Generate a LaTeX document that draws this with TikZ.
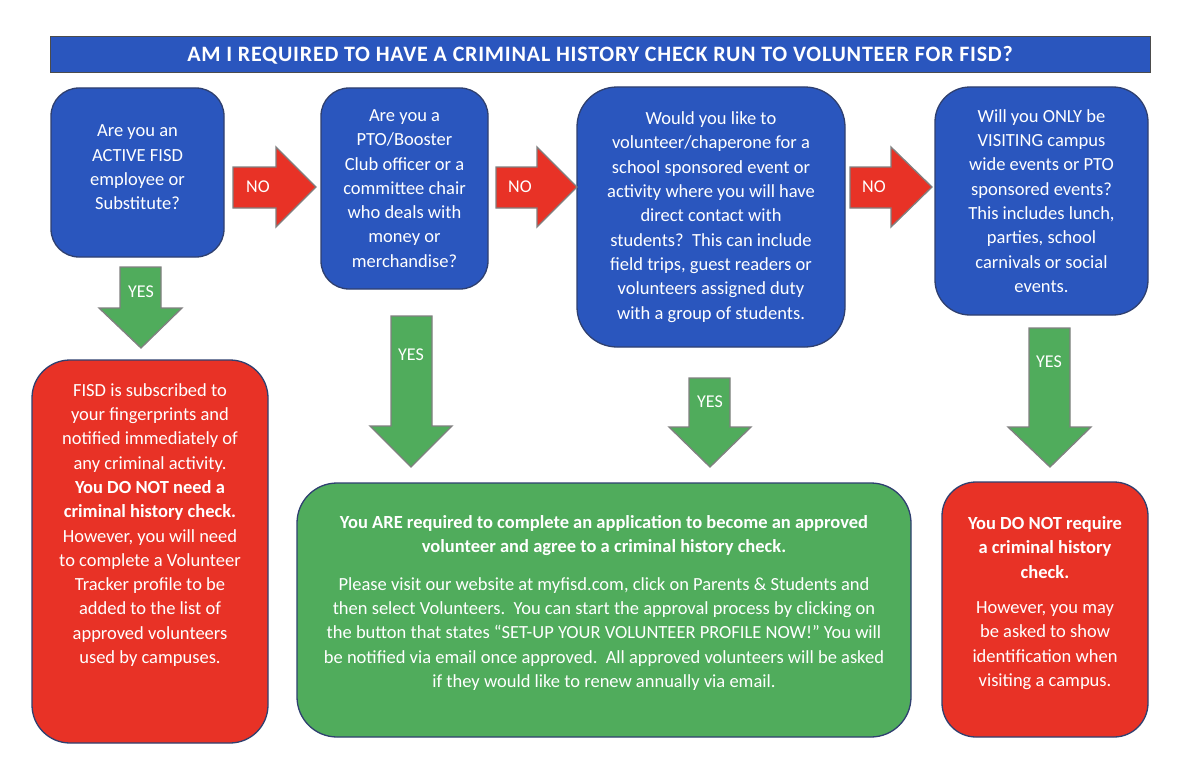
\documentclass[tikz,border=0pt]{standalone}
\usepackage{fontspec}
\setmainfont{Carlito}
\definecolor{fblue}{RGB}{42,86,190}
\definecolor{fred}{RGB}{232,50,38}
\definecolor{fgreen}{RGB}{80,172,92}
\definecolor{edge}{RGB}{47,64,112}
\definecolor{aedge}{RGB}{128,128,128}
\begin{document}
\begin{tikzpicture}[x=1pt,y=-1pt,
  box/.style={draw=edge,line width=1.3pt,inner sep=0pt,outer sep=0pt},
  bluebox/.style={box,fill=fblue},
  redbox/.style={box,fill=fred},
  greenbox/.style={box,fill=fgreen},
  txt/.style={text=white,align=center,inner sep=0pt,font=\fontsize{18.5}{24.3}\selectfont},
  noarrow/.style={fill=fred,draw=aedge,line width=1.3pt,line join=miter},
  yesarrow/.style={fill=fgreen,draw=aedge,line width=1.3pt,line join=miter},
  lbl/.style={text=white,inner sep=0pt,font=\fontsize{18}{22}\selectfont}]
\useasboundingbox (0,0) rectangle (1200,784);
\fill[white] (0,0) rectangle (1200,784);
% title bar
\node[draw=black!70,fill=fblue,line width=1pt,minimum width=1100pt,minimum height=36pt,inner sep=0pt,text=white,font=\fontsize{22}{24}\selectfont\bfseries\addfontfeature{LetterSpace=3.5}] (title) at (600,55) {AM I REQUIRED TO HAVE A CRIMINAL HISTORY CHECK RUN TO VOLUNTEER FOR FISD?};
% question boxes
\node[bluebox,minimum width=173pt,minimum height=169pt,rounded corners=28pt] (q1) at (137.5,172.5) {};
\node[bluebox,minimum width=167pt,minimum height=201pt,rounded corners=28pt] (q2) at (404.5,188.5) {};
\node[bluebox,minimum width=268pt,minimum height=260pt,rounded corners=40pt] (q3) at (711,217) {};
\node[bluebox,minimum width=213pt,minimum height=228pt,rounded corners=35pt] (q4) at (1041.5,201) {};
% answer boxes
\node[redbox,minimum width=236pt,minimum height=383pt,rounded corners=38pt] (r1) at (150,551.5) {};
\node[greenbox,minimum width=614pt,minimum height=254pt,rounded corners=40pt] (g1) at (604,610) {};
\node[redbox,minimum width=206pt,minimum height=255pt,rounded corners=34pt] (r2) at (1045,609.5) {};
% texts
\node[txt] (q1t) at (q1.center) [yshift=5pt] {Are you an\\ACTIVE FISD\\employee or\\Substitute?};
\node[txt] (q2t) at (q2.center) {Are you a\\PTO/Booster\\Club officer or a\\committee chair\\who deals with\\money or\\merchandise?};
\node[txt] (q3t) at (q3.center) {Would you like to\\volunteer/chaperone for a\\school sponsored event or\\activity where you will have\\direct contact with\\students?\ \ This can include\\field trips, guest readers or\\volunteers assigned duty\\with a group of students.};
\node[txt] (q4t) at (q4.center) {Will you ONLY be\\VISITING campus\\wide events or PTO\\sponsored events?\\This includes lunch,\\parties, school\\carnivals or social\\events.};
\node[txt] (r1t) at (150,525) {FISD is subscribed to\\your fingerprints and\\notified immediately of\\any criminal activity.\\\textbf{You DO NOT need a}\\\textbf{criminal history check.}\\However, you will need\\to complete a Volunteer\\Tracker profile to be\\added to the list of\\approved volunteers\\used by campuses.};
\node[txt] (g1t) at (604,603) {\textbf{You ARE required to complete an application to become an approved}\\\textbf{volunteer and agree to a criminal history check.}\\[13pt]Please visit our website at myfisd.com, click on Parents \& Students and\\then select Volunteers.\ \ You can start the approval process by clicking on\\the button that states “SET-UP YOUR VOLUNTEER PROFILE NOW!” You will\\be notified via email once approved.\ \ All approved volunteers will be asked\\if they would like to renew annually via email.};
\node[txt] (r2t) at (1045,603) {\textbf{You DO NOT require}\\\textbf{a criminal history}\\\textbf{check.}\\[11pt]However, you may\\be asked to show\\identification when\\visiting a campus.};
% NO arrows
\draw[noarrow] (233,167) -- (276,167) -- (276,147) -- (316,187) -- (276,227) -- (276,208) -- (233,208) -- cycle;
\node[lbl] (no1) at (258,187) {NO};
\draw[noarrow] (496,167) -- (537,167) -- (537,147) -- (577,187) -- (537,227) -- (537,208) -- (496,208) -- cycle;
\node[lbl] (no2) at (520,187) {NO};
\draw[noarrow] (850,167) -- (891,167) -- (891,147) -- (932,187) -- (891,227) -- (891,208) -- (850,208) -- cycle;
\node[lbl] (no3) at (874,187) {NO};
% YES arrows
\draw[yesarrow] (120,267) -- (161,267) -- (161,308) -- (182,308) -- (141,348) -- (99,308) -- (120,308) -- cycle;
\node[lbl] (yes1) at (141,292) {YES};
\draw[yesarrow] (391,316) -- (432,316) -- (432,426) -- (452,426) -- (411,467) -- (370,426) -- (391,426) -- cycle;
\node[lbl] (yes2) at (411,355) {YES};
\draw[yesarrow] (689,378) -- (730,378) -- (730,427) -- (751,427) -- (710,467) -- (669,427) -- (689,427) -- cycle;
\node[lbl] (yes3) at (710,402) {YES};
\draw[yesarrow] (1029,328) -- (1070,328) -- (1070,427) -- (1091,427) -- (1050,467) -- (1008,427) -- (1029,427) -- cycle;
\node[lbl] (yes4) at (1049,362) {YES};
\end{tikzpicture}
\end{document}
